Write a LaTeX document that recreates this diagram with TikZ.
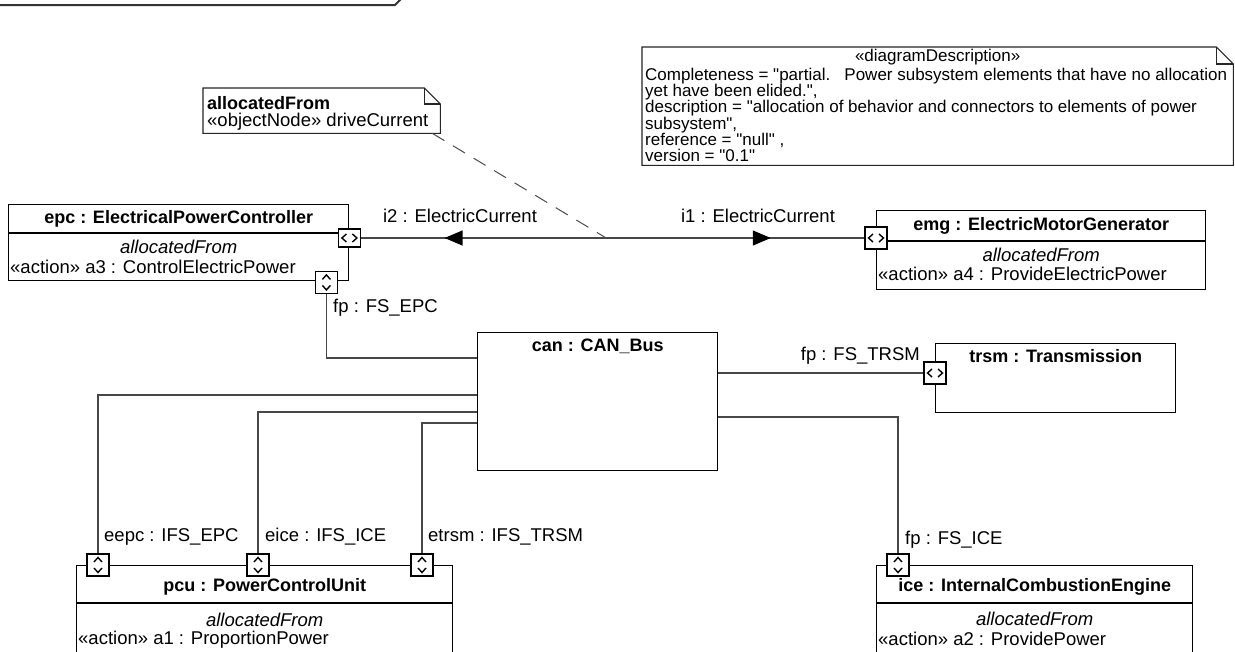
\documentclass[tikz,border=0pt]{standalone}
\usepackage{fontspec}
\newfontfamily\umlfont{Liberation Sans}
\usetikzlibrary{arrows.meta, calc, decorations.markings}

% port glyphs drawn round a port node
\newcommand{\lrglyph}[1]{%
  \draw[glyph] ($(#1)+(-3,-4)$) -- ($(#1)+(-7.5,0)$) -- ($(#1)+(-3,4)$)
               ($(#1)+(3,-4)$) -- ($(#1)+(7.5,0)$) -- ($(#1)+(3,4)$);}
\newcommand{\udglyph}[1]{%
  \draw[glyph] ($(#1)+(-4,-3)$) -- ($(#1)+(0,-7.5)$) -- ($(#1)+(4,-3)$)
               ($(#1)+(-4,3)$) -- ($(#1)+(0,7.5)$) -- ($(#1)+(4,3)$);}

\tikzset{
  partbox/.style={draw, line width=1.4pt, inner sep=0pt, anchor=north west},
  partline/.style={line width=1.3pt},
  port/.style={draw, line width=1.2pt, fill=white, inner sep=0pt,
    minimum width=22pt, minimum height=22pt},
  glyph/.style={line width=1.4pt},
  wire/.style={line width=1.2pt, draw=black!72},
  notebox/.style={inner sep=0pt, anchor=north west},
  noteline/.style={line width=1.1pt, draw=black!85},
  notelink/.style={line width=1pt, draw=black!70, dash pattern=on 14pt off 10pt},
  ttl/.style={font=\umlfont\fontsize{18}{20}\selectfont\bfseries, inner sep=0pt},
  txt/.style={font=\umlfont\fontsize{18.5}{20}\selectfont, inner sep=0pt},
  itxt/.style={font=\umlfont\fontsize{18.5}{20}\selectfont\itshape, inner sep=0pt},
  notetxt/.style={font=\umlfont\fontsize{17}{16.2}\selectfont, inner sep=0pt},
  flowarrows/.style={postaction={decorate}, decoration={markings,
    mark=at position 0.166 with {\arrowreversed{Triangle[length=18pt, width=15pt, color=black]}},
    mark=at position 0.814 with {\arrow{Triangle[length=18pt, width=15pt, color=black]}}}},
}

\begin{document}
\begin{tikzpicture}[x=1pt, y=-1pt]
    % ================= Canvas =================
    \path[use as bounding box] (0,0) rectangle (1235,651);
    \clip (0,0) rectangle (1235,651);
    \fill[white] (0,0) rectangle (1235,651);

    % frame name tab
    \draw[line width=2pt, black!80] (-5,5) -- (395,5) -- (409,-9);

    % ================= Notes =================
    \node[notebox, minimum width=237pt, minimum height=45pt] (alloc) at (203,88) {};
    \draw[noteline] (alloc.north west) -- ($(alloc.north east)+(-16,0)$)
        -- ($(alloc.north east)+(0,16)$) -- (alloc.south east) -- (alloc.south west) -- cycle;
    \draw[noteline] ($(alloc.north east)+(-16,0)$) |- ($(alloc.north east)+(0,16)$);
    \node[ttl, anchor=west] (alloc-head) at ($(alloc.north west)+(4,15)$) {allocatedFrom};
    \node[txt, anchor=west] (alloc-body) at ($(alloc.north west)+(4,34)$) {«objectNode» driveCurrent};

    \node[notebox, minimum width=591pt, minimum height=118pt] (desc) at (642,47) {};
    \draw[noteline] (desc.north west) -- ($(desc.north east)+(-17,0)$)
        -- ($(desc.north east)+(0,17)$) -- (desc.south east) -- (desc.south west) -- cycle;
    \draw[noteline] ($(desc.north east)+(-17,0)$) |- ($(desc.north east)+(0,17)$);
    \node[notetxt] (desc-head) at ($(desc.north)+(0,10)$) {«diagramDescription»};
    \node[notetxt, anchor=north west, align=left] (desc-body) at ($(desc.north west)+(3,21)$)
        {Completeness = "partial.\ \ \ Power subsystem elements that have no allocation\\
         yet have been elided.",\\
         description = "allocation of behavior and connectors to elements of power\\
         subsystem",\\
         reference = "null" ,\\
         version = "0.1"};

    % ================= Parts =================
    % epc
    \node[partbox, minimum width=340pt, minimum height=76pt] (epc) at (8,204) {};
    \draw[partline] ($(epc.north west)+(0,29)$) -- ($(epc.north east)+(0,29)$);
    \node[ttl] (epc-name) at ($(epc.north)+(0,14.5)$) {epc : ElectricalPowerController};
    \node[itxt] (epc-alloc) at ($(epc.north)+(0,43)$) {allocatedFrom};
    \node[txt, anchor=west] (epc-act) at ($(epc.north west)+(2,63)$) {«action» a3 : ControlElectricPower};
    \node[port, minimum height=18pt] (epc-i) at ($(epc.north east)+(0,34)$) {};
    \lrglyph{epc-i}
    \node[port] (epc-fp) at ($(epc.south east)+(-23,1)$) {};
    \udglyph{epc-fp}

    % emg
    \node[partbox, minimum width=329pt, minimum height=79pt] (emg) at (876,210) {};
    \draw[partline] ($(emg.north west)+(0,31)$) -- ($(emg.north east)+(0,31)$);
    \node[ttl] (emg-name) at ($(emg.north)+(0,16)$) {emg : ElectricMotorGenerator};
    \node[itxt] (emg-alloc) at ($(emg.north)+(0,45)$) {allocatedFrom};
    \node[txt, anchor=west] (emg-act) at ($(emg.north west)+(2,64)$) {«action» a4 : ProvideElectricPower};
    \node[port] (emg-i) at ($(emg.north west)+(0,28)$) {};
    \lrglyph{emg-i}

    % can
    \node[partbox, minimum width=240pt, minimum height=138pt] (can) at (477,332) {};
    \node[ttl] (can-name) at ($(can.north)+(0,14)$) {can : CAN\_Bus};

    % trsm
    \node[partbox, minimum width=240pt, minimum height=69pt] (trsm) at (935,343) {};
    \node[ttl] (trsm-name) at ($(trsm.north)+(0,13)$) {trsm : Transmission};
    \node[port] (trsm-fp) at ($(trsm.north west)+(0,30)$) {};
    \lrglyph{trsm-fp}

    % pcu
    \node[partbox, minimum width=376pt, minimum height=110pt] (pcu) at (76,565) {};
    \draw[partline] ($(pcu.north west)+(0,38)$) -- ($(pcu.north east)+(0,38)$);
    \node[ttl] (pcu-name) at ($(pcu.north)+(0,22)$) {pcu : PowerControlUnit};
    \node[itxt] (pcu-alloc) at ($(pcu.north)+(0,55)$) {allocatedFrom};
    \node[txt, anchor=west] (pcu-act) at ($(pcu.north west)+(2,75)$) {«action» a1 : ProportionPower};
    \node[port] (pcu-epc) at ($(pcu.north west)+(22,0)$) {};
    \udglyph{pcu-epc}
    \node[port] (pcu-ice) at ($(pcu.north west)+(182,0)$) {};
    \udglyph{pcu-ice}
    \node[port] (pcu-trsm) at ($(pcu.north west)+(346,0)$) {};
    \udglyph{pcu-trsm}

    % ice
    \node[partbox, minimum width=316pt, minimum height=110pt] (ice) at (876,565) {};
    \draw[partline] ($(ice.north west)+(0,38)$) -- ($(ice.north east)+(0,38)$);
    \node[ttl] (ice-name) at ($(ice.north)+(0,22)$) {ice : InternalCombustionEngine};
    \node[itxt] (ice-alloc) at ($(ice.north)+(0,54)$) {allocatedFrom};
    \node[txt, anchor=west] (ice-act) at ($(ice.north west)+(2,74)$) {«action» a2 : ProvidePower};
    \node[port] (ice-fp) at ($(ice.north west)+(22,0)$) {};
    \udglyph{ice-fp}

    % ================= Connectors =================
    \draw[wire, flowarrows] (epc-i.east) -- (emg-i.west) coordinate[pos=0.487] (flowpt);
    \node[txt] (i2-lbl) at (460,216) {i2 : ElectricCurrent};
    \node[txt] (i1-lbl) at (758,216) {i1 : ElectricCurrent};
    \draw[notelink] ($(alloc.south east)+(-8,0)$) -- (flowpt);

    \draw[wire] (epc-fp.south) |- ($(can.north west)+(0,26)$);
    \node[txt, anchor=west] (fp-epc) at (333,308) {fp : FS\_EPC};

    \draw[wire] (pcu-epc.north) |- ($(can.north west)+(0,63)$);
    \draw[wire] (pcu-ice.north) |- ($(can.north west)+(0,80)$);
    \draw[wire] (pcu-trsm.north) |- ($(can.north west)+(0,91)$);
    \node[txt, anchor=west] (eepc-lbl) at (104,537) {eepc : IFS\_EPC};
    \node[txt, anchor=west] (eice-lbl) at (265,537) {eice : IFS\_ICE};
    \node[txt, anchor=west] (etrsm-lbl) at (428,537) {etrsm : IFS\_TRSM};

    \draw[wire] ($(can.north east)+(0,41)$) -- (trsm-fp.west);
    \node[txt, anchor=east] (fp-trsm) at (920,356) {fp : FS\_TRSM};
    \draw[wire] ($(can.north east)+(0,85)$) -| (ice-fp.north);
    \node[txt, anchor=west] (fp-ice) at (905,540) {fp : FS\_ICE};

\end{tikzpicture}
\end{document}
